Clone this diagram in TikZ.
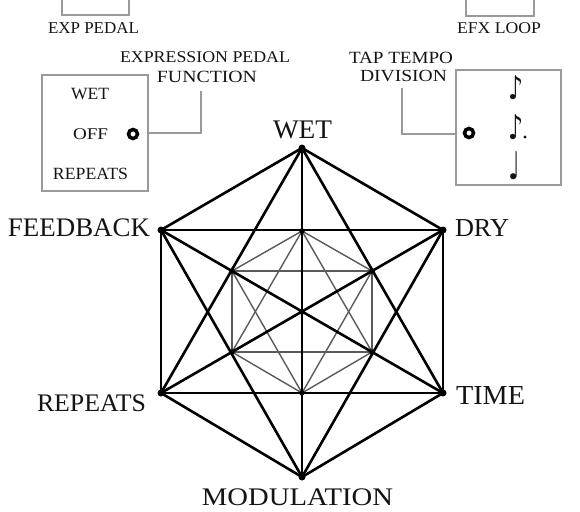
\documentclass[tikz,border=0pt]{standalone}
\usepackage{fontspec}
\setmainfont{Liberation Serif}
\newfontfamily\symfont{DejaVu Sans}
\definecolor{txt}{HTML}{141414}
\definecolor{boxgray}{HTML}{9A9A9A}
\definecolor{innergray}{HTML}{5A5A5A}
\newcommand\fitbox[3]{\resizebox*{#1pt}{#2pt}{#3}}
\begin{document}
\begin{tikzpicture}[x=1pt,y=-1pt,
  lbl/.style={text=txt, inner sep=0, font=\fontsize{27}{27}\selectfont},
  small/.style={text=txt, inner sep=0, font=\fontsize{17.5}{17.5}\selectfont},
  outeredge/.style={line width=2.6pt, black, line cap=round},
  inneredge/.style={line width=1.4pt, innergray, line cap=round},
  vdot/.style={circle, fill=black, inner sep=0, minimum size=7pt},
  idot/.style={circle, fill=black, inner sep=0, minimum size=5.5pt},
  panel/.style={draw=boxgray, line width=1.3pt},
  link/.style={draw=boxgray, line width=1.3pt},
  knob/.style={circle, draw=black, line width=3.5pt, fill=white, inner sep=0, minimum size=9pt},
  note/.style={text=txt, inner sep=0, font=\symfont\fontsize{30}{30}\selectfont}]
\useasboundingbox[fill=white] (0,0) rectangle (580,511);

% outer vertices
\coordinate (T)  at (302,148);
\coordinate (UR) at (443,230);
\coordinate (LR) at (443,393);
\coordinate (B)  at (302,477);
\coordinate (LL) at (161,393);
\coordinate (UL) at (161,230);
% inner vertices
\coordinate (it)  at (302,231);
\coordinate (iur) at (372,271);
\coordinate (ilr) at (372,352);
\coordinate (ib)  at (302,393);
\coordinate (ill) at (232,352);
\coordinate (iul) at (232,271);
\coordinate (c)   at (302,312);

% inner gray complete graph
\foreach \a/\b in {it/iur,it/iul,iul/ill,iur/ilr,ill/ib,ilr/ib,iul/iur,ill/ilr,it/ill,it/ilr,ib/iul,ib/iur}
  \draw[inneredge] (\a) -- (\b);

% outer black complete graph
\foreach \a/\b in {T/UR,UR/LR,LR/B,B/LL,LL/UL,UL/T,UL/UR,LL/LR,T/B,UL/LR,UR/LL,T/LL,T/LR,B/UL,B/UR}
  \draw[outeredge] (\a) -- (\b);

% dots
\foreach \p in {T,UR,LR,B,LL,UL}
  \node[vdot] at (\p) {};
\foreach \p in {it,iur,ilr,ib,ill,iul,c}
  \node[idot] at (\p) {};

% main labels
\node[lbl] (lwet)  at (302.5,129.5) {\fitbox{59}{18}{WET}};
\node[lbl] (lfb)   at (79,227.5)    {\fitbox{142}{18}{FEEDBACK}};
\node[lbl] (ldry)  at (482,228.5)   {\fitbox{54}{17}{DRY}};
\node[lbl] (lrep)  at (91.5,403.5)  {\fitbox{109}{17}{REPEATS}};
\node[lbl] (ltime) at (490.5,395)   {\fitbox{69}{18}{TIME}};
\node[lbl] (lmod)  at (297.5,497)   {\fitbox{191}{17}{MODULATION}};

% top partial boxes
\draw[panel] (62,-2) |- (129,15) -- (129,-2);
\draw[panel] (466,-2) |- (534,16) -- (534,-2);
\node[small] (lexp) at (93.5,28)  {\fitbox{91}{11}{EXP PEDAL}};
\node[small] (lefx) at (499,28.5) {\fitbox{84}{11}{EFX LOOP}};

% expression pedal function
\node[small] (lepf1) at (205,57.5) {\fitbox{170}{11}{EXPRESSION PEDAL}};
\node[small] (lepf2) at (207,76.5) {\fitbox{100}{11.5}{FUNCTION}};
\draw[panel] (42,75) rectangle (148,191);
\node[small] (bwet) at (90,94)      {\fitbox{38}{11.5}{WET}};
\node[small] (boff) at (90.5,134.5) {\fitbox{35}{11}{OFF}};
\node[small] (brep) at (90.5,173.5) {\fitbox{75}{11.5}{REPEATS}};
\coordinate (lk) at (148,133);
\coordinate (lup) at (201,91);
\draw[link] (lk) -| (lup);
\node[knob] (knobL) at (133,134) {};

% tap tempo division
\node[small] (ltt1) at (401,58)    {\fitbox{104}{11.5}{TAP TEMPO}};
\node[small] (ltt2) at (403.5,76.5){\fitbox{87}{11.5}{DIVISION}};
\draw[panel] (456,70) rectangle (561,185);
\coordinate (rup) at (402,88);
\coordinate (rk) at (456,134);
\draw[link] (rup) |- (rk);
\node[knob] (knobR) at (469,133) {};
\node[note] (n1) at (515.5,88)  {\fitbox{15}{24}{♪}};
\node[note] (n2) at (515.5,127.5) {\fitbox{15}{25}{♪}};
\fill[txt] (525,137) circle (1.6pt);
\node[note] (n3) at (514,166) {\fitbox{12}{28}{♩}};
\end{tikzpicture}
\end{document}
